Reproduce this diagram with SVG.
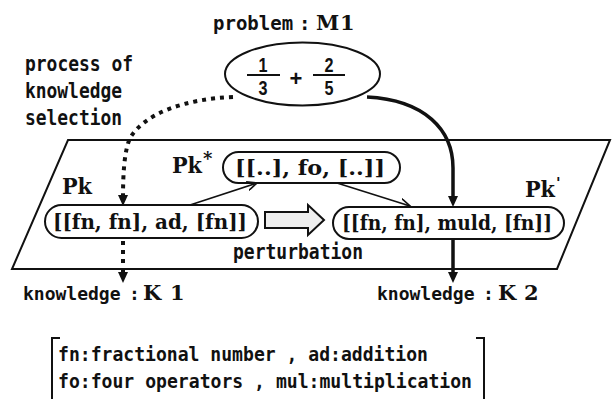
<svg xmlns="http://www.w3.org/2000/svg" width="614" height="399" viewBox="0 0 614 399">
<defs>
<style>
.mono{font-family:"DejaVu Sans Mono","Liberation Mono",monospace;font-weight:bold;fill:#111}
.ser{font-family:"DejaVu Serif","Liberation Serif",serif;font-weight:bold;fill:#111}
.num{font-family:"Liberation Sans","DejaVu Sans",sans-serif;font-weight:bold;fill:#111;text-anchor:middle}
.box{fill:#fff;stroke:#111;stroke-width:2}
.ln{fill:none;stroke:#111}
</style>
<marker id="open" markerUnits="userSpaceOnUse" markerWidth="12" markerHeight="10" refX="10" refY="5" orient="auto"><path d="M0,0.5 L10,5 L0,9.5" fill="none" stroke="#111" stroke-width="1.6"/></marker>
<marker id="tri" markerUnits="userSpaceOnUse" markerWidth="12" markerHeight="10" refX="4" refY="5" orient="auto"><path d="M0,0 L11,5 L0,10 Z" fill="#111"/></marker>
</defs>
<rect width="614" height="399" fill="#fff"/>

<g id="plane">
<polygon points="68,140 610,140 557,269 12,269" class="ln" stroke-width="2"/>
</g>

<g id="problem">
<text class="mono" y="30" font-size="19"><tspan x="213">problem</tspan><tspan x="299">:</tspan><tspan x="316" class="ser" font-size="21">M</tspan><tspan x="340" class="ser" font-size="21">1</tspan></text>
<ellipse cx="302.5" cy="74" rx="77.5" ry="31.5" class="ln" stroke-width="2"/>
<text class="num" x="263" y="72" font-size="20" textLength="9" lengthAdjust="spacingAndGlyphs">1</text>
<line x1="247" y1="75" x2="280" y2="75" stroke="#111" stroke-width="2"/>
<text class="num" x="263" y="95" font-size="20" textLength="9" lengthAdjust="spacingAndGlyphs">3</text>
<text class="num" x="296" y="86" font-size="22">+</text>
<text class="num" x="329" y="72" font-size="20" textLength="9" lengthAdjust="spacingAndGlyphs">2</text>
<line x1="313" y1="75" x2="345" y2="75" stroke="#111" stroke-width="2"/>
<text class="num" x="329" y="95" font-size="20" textLength="9" lengthAdjust="spacingAndGlyphs">5</text>
</g>

<g id="process-label">
<text class="mono" x="25" y="71" font-size="21" textLength="108" lengthAdjust="spacingAndGlyphs">process of</text>
<text class="mono" x="25" y="98" font-size="21" textLength="97" lengthAdjust="spacingAndGlyphs">knowledge</text>
<text class="mono" x="25" y="125" font-size="21" textLength="97" lengthAdjust="spacingAndGlyphs">selection</text>
</g>

<g id="pk-star">
<text class="ser" y="173" font-size="22"><tspan x="172" textLength="30" lengthAdjust="spacingAndGlyphs">Pk</tspan><tspan x="203" y="165" font-size="18">*</tspan></text>
<rect x="223" y="152" width="177" height="31" rx="15.5" class="box"/>
<text class="ser" x="235" y="175" font-size="20" textLength="150" lengthAdjust="spacingAndGlyphs">[[..], fo, [..]]</text>
</g>

<g id="pk">
<text class="ser" x="62" y="194" font-size="22" textLength="30" lengthAdjust="spacingAndGlyphs">Pk</text>
<rect x="45" y="205" width="213" height="33" rx="16.5" class="box"/>
<text class="ser" x="53" y="229" font-size="21" textLength="194" lengthAdjust="spacingAndGlyphs">[[fn, fn], ad, [fn]]</text>
</g>

<g id="pk-prime">
<text class="ser" y="197" font-size="22"><tspan x="525" textLength="30" lengthAdjust="spacingAndGlyphs">Pk</tspan><tspan x="556" y="188" font-size="15">'</tspan></text>
<rect x="333" y="207" width="231" height="32" rx="16" class="box"/>
<text class="ser" x="342" y="230" font-size="21" textLength="210" lengthAdjust="spacingAndGlyphs">[[fn, fn], muld, [fn]]</text>
</g>

<g id="perturbation">
<polygon points="265,212 308,212 308,205 324,220 308,235 308,228 265,228" fill="#eee" stroke="#111" stroke-width="2"/>
<text class="mono" x="233" y="259" font-size="21" textLength="130" lengthAdjust="spacingAndGlyphs">perturbation</text>
</g>

<g id="k1">
<text class="mono" y="300" font-size="18"><tspan x="23">knowledge</tspan><tspan x="129">:</tspan><tspan x="143" class="ser" font-size="21">K</tspan><tspan x="170" class="ser" font-size="21">1</tspan></text>
</g>

<g id="k2">
<text class="mono" y="300" font-size="18"><tspan x="377">knowledge</tspan><tspan x="483">:</tspan><tspan x="498" class="ser" font-size="21">K</tspan><tspan x="524" class="ser" font-size="21">2</tspan></text>
</g>

<g id="legend">
<path d="M60,338 L52,338 L52,399" class="ln" stroke-width="2"/>
<path d="M476,338 L484,338 L484,399" class="ln" stroke-width="2"/>
<text class="mono" x="58" y="361" font-size="19" textLength="370" lengthAdjust="spacingAndGlyphs">fn:fractional number , ad:addition</text>
<text class="mono" x="58" y="388" font-size="19" textLength="414" lengthAdjust="spacingAndGlyphs">fo:four operators , mul:multiplication</text>
</g>

<g id="connectors">
<path d="M190,205 L257,183" class="ln" stroke-width="1.6" marker-end="url(#open)"/>
<path d="M337,183 L410,206" class="ln" stroke-width="1.6" marker-end="url(#open)"/>
<path d="M233,97 C185,99 145,113 130,138 C124,152 123,175 123,199" class="ln" stroke-width="4" stroke-dasharray="4 5" marker-end="url(#tri)"/>
<path d="M123,241 L123,276" class="ln" stroke-width="4" stroke-dasharray="4 5" marker-end="url(#tri)"/>
<path d="M367,97 C425,100 453,130 453,168 L453,200" class="ln" stroke-width="3.5" marker-end="url(#tri)"/>
<path d="M453,239 L453,276" class="ln" stroke-width="3.5" marker-end="url(#tri)"/>
</g>
</svg>
